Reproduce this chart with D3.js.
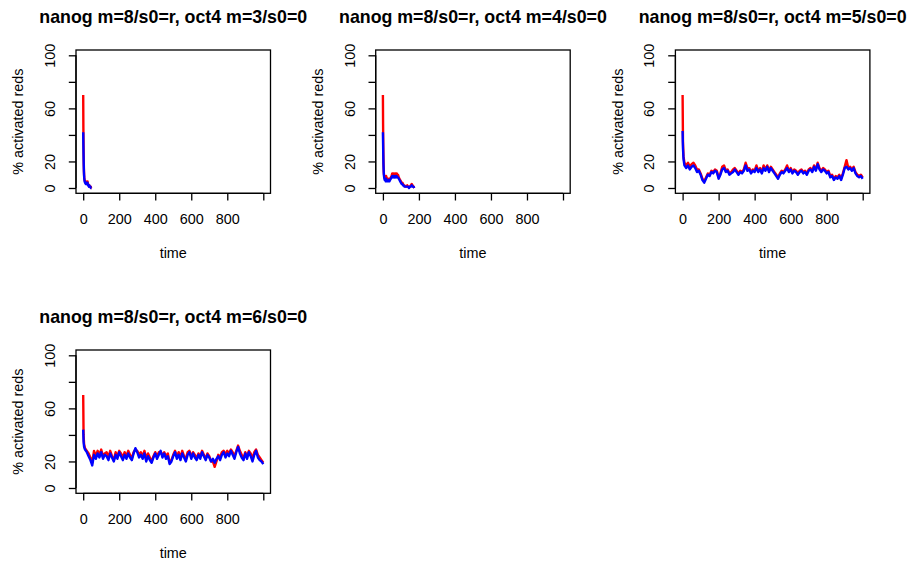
<!DOCTYPE html>
<html>
<head>
<meta charset="utf-8">
<script src="https://cdn.jsdelivr.net/npm/d3@7"></script>
<style>
  html, body { margin: 0; padding: 0; background: #fff; }
  svg { display: block; }
  text { font-family: "Liberation Sans", Arial, Helvetica, sans-serif; fill: #000; }
</style>
</head>
<body>
<div id="chart"></div>
<script>
// ---------------- data ----------------
const panelTitles = [
  "nanog m=8/s0=r, oct4 m=3/s0=0",
  "nanog m=8/s0=r, oct4 m=4/s0=0",
  "nanog m=8/s0=r, oct4 m=5/s0=0",
  "nanog m=8/s0=r, oct4 m=6/s0=0"
];
const xTicks = [0, 200, 400, 600, 800, 1000];
const xTickLabels = ["0", "200", "400", "600", "800", ""];
const yTicks = [0, 20, 40, 60, 80, 100];
const yTickLabels = ["0", "20", "", "60", "", "100"];
const xLabel = "time";
const yLabel = "% activated reds";

// panel 1 (oct4 m=3)
const time1 = [0,1,2,3,4,5,6,8,10,12,14,16,18,20,22,24,26,28,30,32,34,36,38,40,42,44,46];
const red1  = [70,45,30,20,14,10,8,6,5,4,5,5,4,4,4,5,3,3,2,2,2,1,1,1,1,0,0];
const blue1 = [42,32,24,17,12,9,7,5,4,4,3,4,4,3,3,4,2,2,2,1,2,1,1,1,0,0,0];

// panel 2 (oct4 m=4)
const time2 = [0,1,2,3,4,5,6,8,10,12,14,16,18,20,24,28,32,36,40,44,48,52,56,60,64,68,72,76,80,84,88,92,96,100,104,108,112,116,120,125,130,135,140,145,150,155,160,165,170,174];
const red2  = [70,48,32,22,16,12,10,9,8,9,8,7,9,8,7,6,7,6,7,8,9,11,10,11,10,11,10,11,9,10,8,7,6,5,4,4,3,2,2,1,1,2,1,1,1,2,3,2,1,0];
const blue2 = [42,34,25,18,14,11,9,7,6,7,6,5,7,6,5,5,6,5,6,7,8,9,8,9,8,9,8,9,8,8,7,6,5,4,3,3,2,2,1,1,1,1,1,0,1,1,2,1,1,0];

// panels 3 & 4 share the same time grid
const timeLong = [0,2,5,10,20,30,40,50,60,70,80,90,100,110,120,130,140,150,160,170,180,190,200,
  210,220,230,240,250,260,270,280,290,300,310,320,330,340,350,360,370,380,390,400,
  410,420,430,440,450,460,470,480,490,500,510,520,530,540,550,560,570,580,590,600,
  610,620,630,640,650,660,670,680,690,700,710,720,730,740,750,760,770,780,790,800,
  810,820,830,840,850,860,870,880,890,900,910,920,930,940,950,960,970,980,990,1000];

// panel 3 (oct4 m=5)
const red3 = [70,35,24,19,17,19,16,18,19,17,14,14,11,7,5,8,11,10,13,12,14,13,8,
  11,16,17,13,14,11,12,14,15,13,11,13,12,14,19,15,15,12,14,13,
  17,13,15,12,17,14,17,13,16,14,12,10,8,11,13,12,14,17,13,15,
  12,14,13,11,13,14,12,13,11,14,15,13,17,14,19,15,13,15,14,12,
  13,9,10,7,9,8,10,7,11,16,21,15,16,14,16,12,10,9,10,8];
const blue3 = [43,30,22,17,15,17,14,16,17,15,12,13,10,6,4,7,10,9,12,11,13,12,7,
  10,14,15,12,13,10,11,12,14,12,10,12,11,13,17,13,14,11,13,12,
  15,12,14,11,15,13,16,12,15,13,11,9,7,10,12,11,13,15,12,14,
  11,13,12,10,12,13,11,12,10,13,14,12,16,13,18,14,12,14,13,11,
  12,8,9,6,8,7,9,6,10,15,16,14,15,13,15,11,9,8,9,7];

// panel 4 (oct4 m=6)
const red4 = [70,40,33,30,28,26,23,19,28,24,28,25,29,24,26,27,23,28,24,21,27,24,28,
  26,23,27,24,28,25,22,27,29,28,25,27,24,28,22,26,23,20,24,27,
  24,27,27,25,27,24,26,19,21,25,28,24,27,23,28,24,22,27,28,24,
  27,25,22,26,24,28,25,22,26,24,20,20,16,20,25,23,27,28,25,28,
  26,29,27,24,28,32,28,25,22,27,24,28,26,22,27,29,25,23,21,19];
const blue4 = [44,35,31,29,27,24,21,17,25,22,26,23,27,22,25,24,21,26,23,20,25,22,27,
  24,21,25,22,26,23,21,26,30,27,23,25,22,26,20,24,21,19,23,26,
  22,25,28,23,26,22,24,18,20,24,27,22,25,21,26,23,20,25,27,22,
  26,23,21,25,22,27,24,21,25,23,20,22,19,22,24,21,25,27,23,26,
  24,28,25,22,27,31,26,23,21,26,22,27,24,20,25,28,23,21,20,18];

const panels = [
  { title: panelTitles[0], time: time1, red: red1, blue: blue1, row: 0, col: 0 },
  { title: panelTitles[1], time: time2, red: red2, blue: blue2, row: 0, col: 1 },
  { title: panelTitles[2], time: timeLong, red: red3, blue: blue3, row: 0, col: 2 },
  { title: panelTitles[3], time: timeLong, red: red4, blue: blue4, row: 1, col: 0 }
];

// ---------------- drawing ----------------
const W = 909, H = 563;
const svg = d3.select("#chart").append("svg").attr("width", W).attr("height", H);

const boxW = 194.5, boxH = 143.3;
const colStep = 299.7, rowStep = 300;
const baseFont = 14.4;

panels.forEach(p => {
  const left = 76 + p.col * colStep;
  const top = 50 + p.row * rowStep;
  const right = left + boxW, bottom = top + boxH;

  const x = d3.scaleLinear().domain([-40, 1040]).range([left, right]);
  const y = d3.scaleLinear().domain([-4, 104]).range([bottom, top]);

  const g = svg.append("g");

  // lines
  const line = d3.line().x((d, i) => x(p.time[i])).y(d => y(d));
  g.append("path").datum(p.red).attr("d", line)
    .attr("fill", "none").attr("stroke", "#FF0000").attr("stroke-width", 2.4)
    .attr("stroke-linejoin", "round");
  g.append("path").datum(p.blue).attr("d", line)
    .attr("fill", "none").attr("stroke", "#0000FF").attr("stroke-width", 2.4)
    .attr("stroke-linejoin", "round");

  // box
  g.append("rect").attr("x", left).attr("y", top).attr("width", boxW).attr("height", boxH)
    .attr("fill", "none").attr("stroke", "#000").attr("stroke-width", 1.3);

  // x axis
  const xAxis = d3.axisBottom(x).tickValues(xTicks).tickSize(7.2).tickPadding(0)
    .tickFormat((d, i) => xTickLabels[i]);
  const gx = g.append("g").attr("transform", `translate(0,${bottom})`).call(xAxis);
  gx.select(".domain").attr("d", `M${x(0)},0H${x(1000)}`).attr("stroke-width", 1.3);
  gx.selectAll(".tick line").attr("stroke-width", 1.3);
  gx.selectAll(".tick text").attr("font-size", baseFont).attr("dy", null)
    .attr("y", 30.7).attr("font-family", "Liberation Sans, Arial, sans-serif");

  // y axis
  const yAxis = d3.axisLeft(y).tickValues(yTicks).tickSize(7.2).tickPadding(0)
    .tickFormat((d, i) => yTickLabels[i]);
  const gy = g.append("g").attr("transform", `translate(${left},0)`).call(yAxis);
  gy.select(".domain").attr("d", `M0,${y(0)}V${y(100)}`).attr("stroke-width", 1.3);
  gy.selectAll(".tick line").attr("stroke-width", 1.3);
  gy.selectAll(".tick text").attr("font-size", baseFont)
    .attr("x", null).attr("dy", null)
    .attr("text-anchor", "middle")
    .attr("transform", "translate(-21,0) rotate(-90)")
    .attr("font-family", "Liberation Sans, Arial, sans-serif");

  // title
  g.append("text").attr("x", (left + right) / 2).attr("y", top - 27.5)
    .attr("text-anchor", "middle").attr("font-weight", "bold").attr("font-size", 17.8)
    .text(p.title);

  // axis labels
  g.append("text").attr("x", (left + right) / 2).attr("y", bottom + 64.5)
    .attr("text-anchor", "middle").attr("font-size", baseFont).text(xLabel);
  g.append("text")
    .attr("transform", `translate(${left - 52.7},${(top + bottom) / 2}) rotate(-90)`)
    .attr("text-anchor", "middle").attr("font-size", baseFont).text(yLabel);
});
</script>
</body>
</html>
